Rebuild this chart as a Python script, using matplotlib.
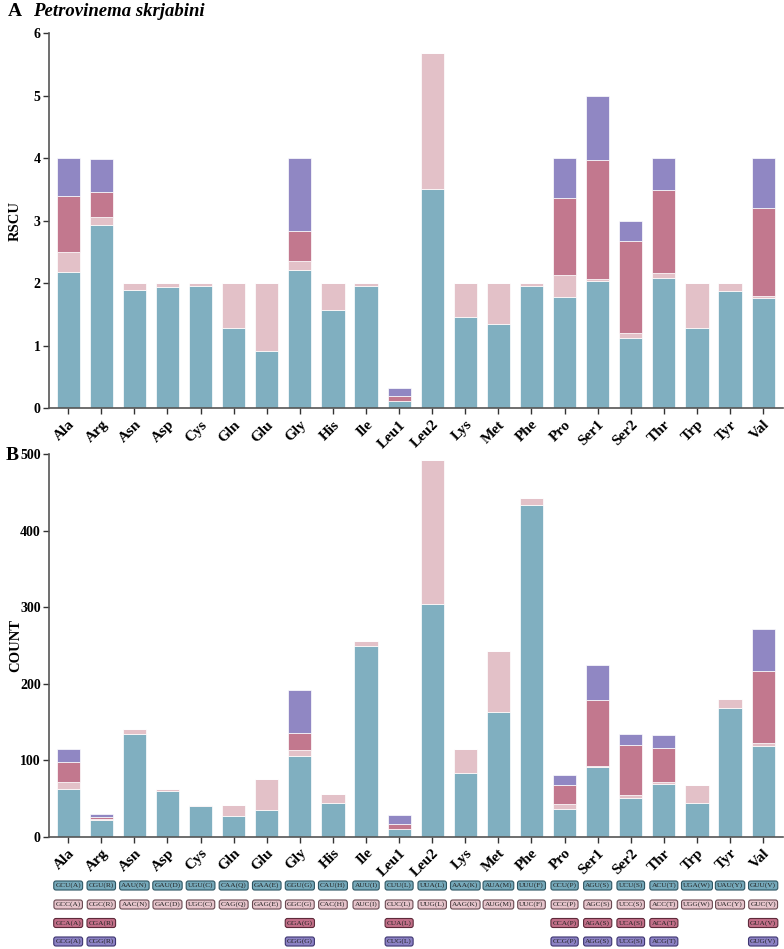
import matplotlib
matplotlib.use("Agg")
import matplotlib.pyplot as plt
from matplotlib.transforms import blended_transform_factory

plt.rcParams['font.family'] = ['Liberation Serif', 'DejaVu Serif']
plt.rcParams['font.weight'] = 'bold'

amino_acids = ['Ala', 'Arg', 'Asn', 'Asp', 'Cys', 'Gln', 'Glu', 'Gly', 'His', 'Ile', 'Leu1',
               'Leu2', 'Lys', 'Met', 'Phe', 'Pro', 'Ser1', 'Ser2', 'Thr', 'Trp', 'Tyr', 'Val']

rscu1 = [2.18, 2.93, 1.90, 1.94, 1.95, 1.29, 0.92, 2.21, 1.57, 1.95, 0.12, 3.51, 1.46, 1.35, 1.96, 1.78, 2.03, 1.12, 2.08, 1.29, 1.87, 1.76]
rscu2 = [0.32, 0.13, 0.10, 0.06, 0.05, 0.71, 1.08, 0.15, 0.43, 0.05, 0.00, 2.17, 0.54, 0.65, 0.04, 0.35, 0.04, 0.09, 0.09, 0.71, 0.13, 0.04]
rscu3 = [0.90, 0.40, 0, 0, 0, 0, 0, 0.48, 0, 0, 0.08, 0, 0, 0, 0, 1.23, 1.90, 1.47, 1.33, 0, 0, 1.40]
rscu4 = [0.60, 0.53, 0, 0, 0, 0, 0, 1.17, 0, 0, 0.13, 0, 0, 0, 0, 0.64, 1.03, 0.31, 0.51, 0, 0, 0.80]

count1 = [62, 22, 134, 60, 40, 27, 35, 106, 44, 249, 10, 304, 83, 163, 433, 36, 91, 50, 69, 44, 168, 119]
count2 = [9, 1, 7, 2, 1, 15, 41, 7, 12, 7, 0, 188, 31, 79, 9, 7, 2, 4, 3, 24, 12, 3]
count3 = [26, 3, 0, 0, 0, 0, 0, 23, 0, 0, 7, 0, 0, 0, 0, 25, 85, 66, 44, 0, 0, 95]
count4 = [17, 4, 0, 0, 0, 0, 0, 56, 0, 0, 11, 0, 0, 0, 0, 13, 46, 14, 17, 0, 0, 54]

codons1 = ['GCU(A)', 'CGU(R)', 'AAU(N)', 'GAU(D)', 'UGU(C)', 'CAA(Q)', 'GAA(E)', 'GGU(G)', 'CAU(H)', 'AUU(I)', 'CUU(L)',
           'UUA(L)', 'AAA(K)', 'AUA(M)', 'UUU(F)', 'CCU(P)', 'AGU(S)', 'UCU(S)', 'ACU(T)', 'UGA(W)', 'UAU(Y)', 'GUU(V)']
codons2 = ['GCC(A)', 'CGC(R)', 'AAC(N)', 'GAC(D)', 'UGC(C)', 'CAG(Q)', 'GAG(E)', 'GGC(G)', 'CAC(H)', 'AUC(I)', 'CUC(L)',
           'UUG(L)', 'AAG(K)', 'AUG(M)', 'UUC(F)', 'CCC(P)', 'AGC(S)', 'UCC(S)', 'ACC(T)', 'UGG(W)', 'UAC(Y)', 'GUC(V)']
codons3 = ['GCA(A)', 'CGA(R)', '', '', '', '', '', 'GGA(G)', '', '', 'CUA(L)',
           '', '', '', '', 'CCA(P)', 'AGA(S)', 'UCA(S)', 'ACA(T)', '', '', 'GUA(V)']
codons4 = ['GCG(A)', 'CGG(R)', '', '', '', '', '', 'GGG(G)', '', '', 'CUG(L)',
           '', '', '', '', 'CCG(P)', 'AGG(S)', 'UCG(S)', 'ACG(T)', '', '', 'GUG(V)']

colors = ['#80AFC0', '#E3C1C8', '#C2788E', '#9087C3']
box_fill = ['#76A9BA', '#E6C4CB', '#C26F88', '#8C82C4']
box_edge = ['#2E5663', '#6A4A52', '#5E2A3A', '#3D3570']

W, H = 784, 949
fig = plt.figure(figsize=(W / 100, H / 100), dpi=100)

ax1 = fig.add_axes([49 / W, 1 - 408.3 / H, 734 / W, (408.3 - 33.3) / H])
ax2 = fig.add_axes([49 / W, 1 - 836.7 / H, 734 / W, (836.7 - 454) / H])

x = list(range(len(amino_acids)))


def draw(ax, series, ymax, yticks):
    bottom = [0.0] * len(x)
    for vals, col in zip(series, colors):
        ax.bar(x, vals, width=0.70, bottom=bottom, color=col, edgecolor='white', linewidth=0.5)
        bottom = [b + v for b, v in zip(bottom, vals)]
    ax.set_xlim(-0.58, len(x) - 0.4)
    ax.set_ylim(0, ymax)
    ax.set_yticks(yticks)
    ax.set_xticks(x)
    ax.set_xticklabels(amino_acids, rotation=45, ha='right', rotation_mode='anchor',
                       fontsize=11, fontweight='bold')
    for lab in ax.get_yticklabels():
        lab.set_fontsize(10)
        lab.set_fontweight('bold')
    for s in ['top', 'right']:
        ax.spines[s].set_visible(False)
    for s in ['left', 'bottom']:
        ax.spines[s].set_color('#555555')
        ax.spines[s].set_linewidth(1.2)
    ax.tick_params(axis='both', direction='out', length=4, width=1.0, color='#333333', pad=2)
    ax.tick_params(axis='x', pad=3)


draw(ax1, [rscu1, rscu2, rscu3, rscu4], 6, [0, 1, 2, 3, 4, 5, 6])
draw(ax2, [count1, count2, count3, count4], 500, [0, 100, 200, 300, 400, 500])

ax1.set_ylabel('RSCU', fontsize=10.5, fontweight='bold')
ax1.yaxis.set_label_coords(-0.037, 0.5)
ax2.set_ylabel('COUNT', fontsize=10.5, fontweight='bold')
ax2.yaxis.set_label_coords(-0.037, 0.5)

fig.text(8 / W, 1 - 11 / H, 'A', fontsize=14, fontweight='bold', va='center', ha='left')
fig.text(33 / W, 1 - 11 / H, 'Petrovinema skrjabini', fontsize=13.5, fontweight='bold',
         fontstyle='italic', va='center', ha='left')
fig.text(6 / W, 1 - 456 / H, 'B', fontsize=14, fontweight='bold', va='center', ha='left')

trans = blended_transform_factory(ax2.transData, fig.transFigure)
row_y = [885.5, 904.5, 923.0, 941.5]
for r, (row, yy) in enumerate(zip([codons1, codons2, codons3, codons4], row_y)):
    for i, lab in enumerate(row):
        if not lab:
            continue
        ax2.text(x[i], 1 - yy / H, lab, transform=trans, ha='center', va='center',
                 fontsize=5.3, fontweight='normal', color='#222222', clip_on=False,
                 bbox=dict(boxstyle='round,pad=0.22,rounding_size=0.3', facecolor=box_fill[r],
                           edgecolor=box_edge[r], linewidth=0.8))

fig.savefig('out.png', dpi=100)
